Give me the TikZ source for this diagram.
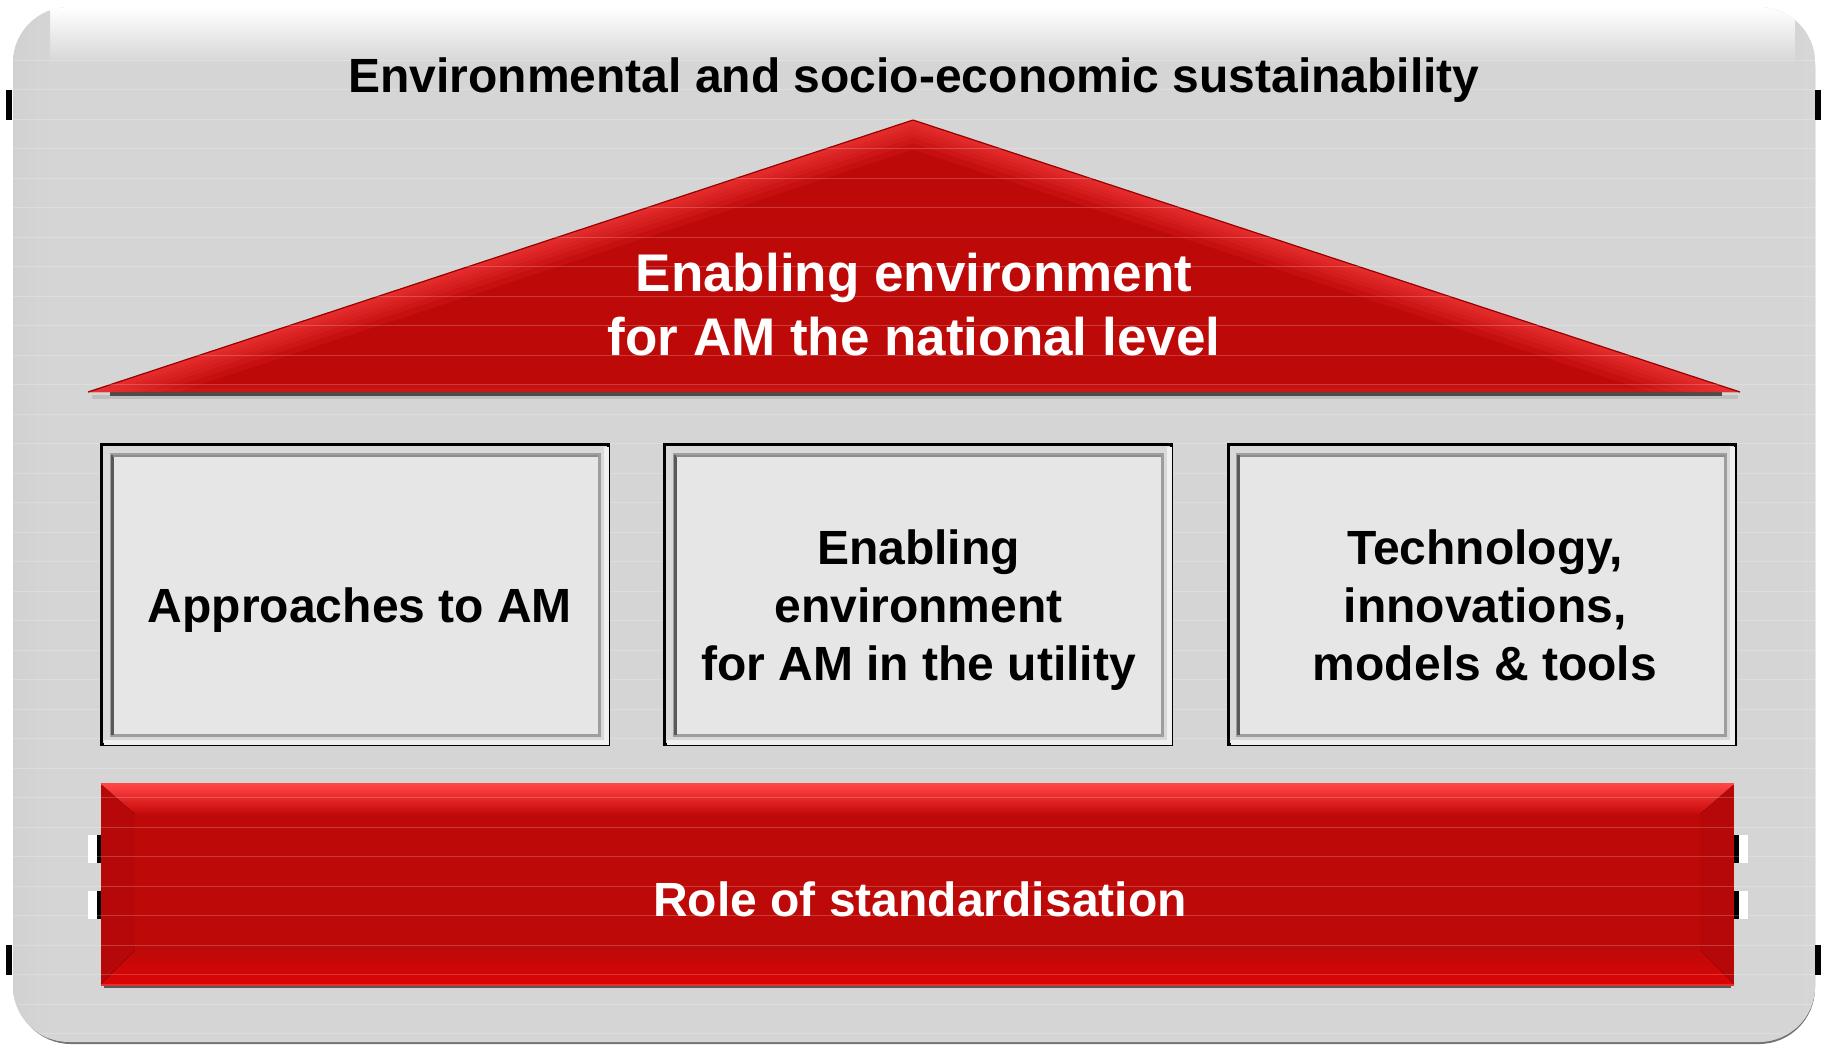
\documentclass[tikz,border=0pt]{standalone}
\usepackage{fontspec}
\setmainfont{Liberation Sans}
\definecolor{bg}{HTML}{D5D5D5}
\definecolor{redmain}{HTML}{BE0909}
\definecolor{redlight}{HTML}{FF4646}
\definecolor{reddark}{HTML}{9A0000}
\definecolor{boxfill}{HTML}{E6E6E6}
\definecolor{boxring}{HTML}{D9D9D9}
\begin{document}
\begin{tikzpicture}[x=1pt,y=-1pt,
  txt/.style={font=\fontsize{48}{57.6}\selectfont\bfseries, align=center, inner sep=0pt},
  bigtxt/.style={font=\fontsize{53}{64}\selectfont\bfseries, align=center, inner sep=0pt},
  pillar/.style={draw=black, line width=3, fill=boxring, minimum width=507, minimum height=300, inner sep=0pt},
  innerframe/.style={fill=boxfill, draw=black!38, line width=3},
  tab/.style={fill=black}
]
\useasboundingbox (0,0) rectangle (1821,1045);

% ---------- outer panel ----------
\fill[black!55, rounded corners=56] (15,10) rectangle (1815,1044);
\fill[bg, rounded corners=56] (13,7) rectangle (1815,1042);
\begin{scope}
  \clip[rounded corners=56] (13,7) rectangle (1815,1042);
  \shade[top color=white, bottom color=bg] (13,7) rectangle (1815,64);
  \shade[left color=black!18, right color=bg] (13,7) rectangle (50,1042);
  \shade[left color=bg, right color=black!16] (1795,7) rectangle (1815,1042);
\end{scope}

% side tabs
\fill[tab] (6,90) rectangle (12,120);
\fill[tab] (6,945) rectangle (12,975);
\fill[tab] (1815,90) rectangle (1821,120);
\fill[tab] (1815,945) rectangle (1821,975);

% ---------- roof ----------
\coordinate (roofL) at (88,392);
\coordinate (roofT) at (913,120);
\coordinate (roofR) at (1740,392);
\fill[black!25] (92,395) rectangle (1738,399);
\fill[black!70] (110,392) rectangle (1722,396);
\fill[redmain] (roofL) -- (roofT) -- (roofR) -- cycle;
\begin{scope}
  \clip (roofL) -- (roofT) -- (roofR) -- cycle;
  \foreach \w in {56,44,34,26,18,12,6}
    \draw[redlight, line width=\w, opacity=0.13, line join=round] (roofL) -- (roofT) -- (roofR);
  \foreach \w in {14,8}
    \draw[redlight, line width=\w, opacity=0.12] (roofL) -- (roofR);
\end{scope}
\draw[reddark, line width=1.2, line join=miter] (roofL) -- (roofT) -- (roofR);

% ---------- base bar ----------
\fill[black!65] (104,984) rectangle (1731,988);
\node[fill=redmain, minimum width=1633, minimum height=200, inner sep=0pt] (bar) at (917.5,884) {};
\fill[top color=redlight, bottom color=redmain!88!red] (bar.north west) -- (bar.north east) -- ([shift={(-34,30)}]bar.north east) -- ([shift={(34,30)}]bar.north west) -- cycle;
\fill[top color=redmain, bottom color=red!45!redmain] ([shift={(34,-34)}]bar.south west) -- ([shift={(-34,-34)}]bar.south east) -- (bar.south east) -- (bar.south west) -- cycle;
\fill[black, opacity=0.04] (bar.north west) -- ([shift={(34,30)}]bar.north west) -- ([shift={(34,-34)}]bar.south west) -- (bar.south west) -- cycle;
\fill[black, opacity=0.04] (bar.north east) -- ([shift={(-34,30)}]bar.north east) -- ([shift={(-34,-34)}]bar.south east) -- (bar.south east) -- cycle;
\draw[redlight, line width=2] (bar.north west) -- (bar.north east);
\draw[redlight!60!redmain, line width=2] ([yshift=-1]bar.south west) -- ([yshift=-1]bar.south east);

% bar tabs
\fill[white] (88,835) rectangle (97,863);
\fill[tab] (97,835) rectangle (101,863);
\fill[white] (88,891) rectangle (97,919);
\fill[tab] (97,891) rectangle (101,919);
\fill[tab] (1734,835) rectangle (1739,863);
\fill[white] (1739,835) rectangle (1748,863);
\fill[tab] (1734,891) rectangle (1739,919);
\fill[white] (1739,891) rectangle (1748,919);

% ---------- faint stripes ----------
\begin{scope}
  \clip[rounded corners=56] (13,7) rectangle (1815,1042);
  \foreach \k in {2,...,35}
    \draw[white, opacity=0.2, line width=1] (13,{1+29.5*\k}) -- (1815,{1+29.5*\k});
\end{scope}

% ---------- pillars ----------
\foreach \n/\cx in {b1/355, b2/918, b3/1481.5} {
  \node[pillar] (\n) at (\cx,594.5) {};
  \draw[white!94!black, line width=5] ([shift={(4,-4)}]\n.south west) -- ([shift={(-4,-4)}]\n.south east) -- ([shift={(-4,4)}]\n.north east);
  \draw[innerframe] ([shift={(11,11)}]\n.north west) rectangle ([shift={(-11,-11)}]\n.south east);
  \draw[black!65, line width=3] ([shift={(12,-11)}]\n.south west) -- ([shift={(12,12)}]\n.north west);
  \draw[black!45, line width=1.5] ([shift={(13,13)}]\n.north west) -- ([shift={(-12,13)}]\n.north east);
}

% ---------- texts ----------
\node[txt] (title) at (914,81) {\strut Environmental and socio-economic sustainability};
\node[bigtxt, text=white] (rooftxt) at (914,311) {\strut Enabling environment\\\strut for AM the national level};
\node[txt] (t1) at (360,611) {\strut Approaches to AM};
\node[txt] (t2) at (918.5,611) {\strut Enabling\\\strut environment\\\strut for AM in the utility};
\node[txt] (t3) at (1485,611) {\strut Technology,\\\strut innovations,\\\strut models \& tools};
\node[txt, text=white] (bartxt) at (920,904.5) {\strut Role of standardisation};
\end{tikzpicture}
\end{document}
